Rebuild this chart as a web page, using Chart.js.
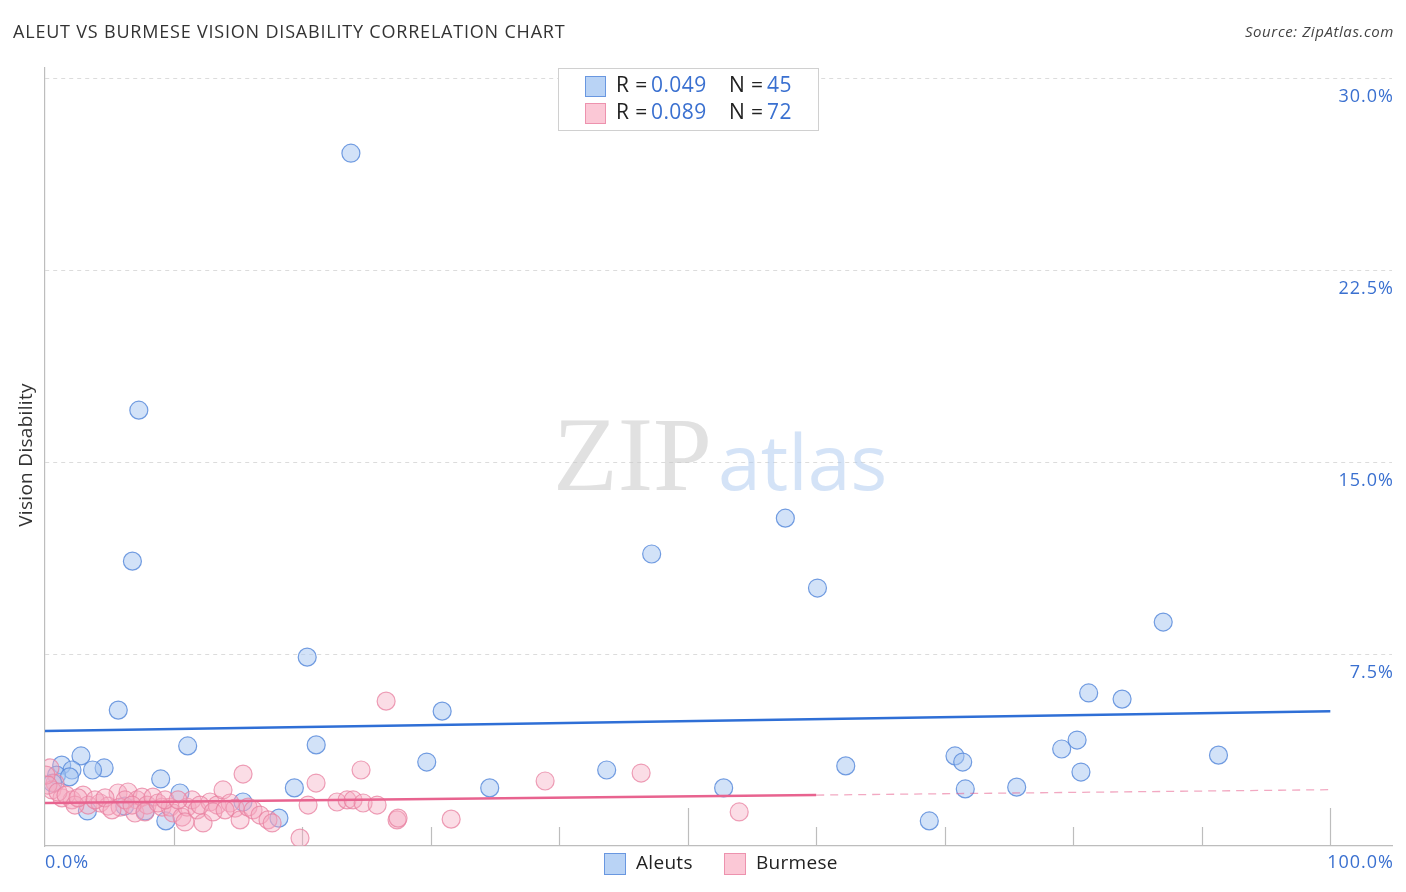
<!DOCTYPE html>
<html lang="en">
<head>
  <meta charset="utf-8">
  <title>Aleut vs Burmese Vision Disability Correlation Chart</title>
  <script src="https://cdn.jsdelivr.net/npm/chart.js"></script>
  <style>
    html, body { margin: 0; padding: 0; background: #fff; }
    #wrap { width: 1406px; height: 892px; position: relative; }
  </style>
</head>
<body>
<div id="wrap"><canvas id="myChart" width="1406" height="892"></canvas></div>
<script>
  // Aleuts: x = share (%), y = vision disability (%)
  var aleutX = [23.8, 7.3, 6.8, 57.6, 47.2, 60.1, 87.0, 20.4, 5.7, 30.9, 81.2, 83.8, 11.1, 21.1, 80.3,
                79.1, 91.3, 70.8, 71.4, 62.3, 29.7, 43.7, 80.6, 2.8, 1.3, 4.6, 3.7, 2.1, 0.9, 1.9,
                3.3, 6.2, 7.8, 9.0, 9.4, 10.5, 15.4, 18.2, 19.4, 34.6, 52.8, 71.6, 75.6, 68.8, 0.6];
  var aleutY = [27.07, 17.03, 11.13, 12.81, 11.41, 10.08, 8.75, 7.38, 5.31, 5.27, 5.98, 5.74, 3.91, 3.95, 4.14,
                3.79, 3.55, 3.52, 3.28, 3.13, 3.28, 2.97, 2.89, 3.52, 3.16, 3.05, 2.97, 2.97, 2.77, 2.70,
                1.37, 1.56, 1.37, 2.62, 0.98, 2.07, 1.72, 1.09, 2.27, 2.27, 2.27, 2.23, 2.30, 0.98, 2.46];

  // Burmese
  var burmeseX = [0.39, 0.78, 0.54, 1.32, 2.10, 2.96, 3.35, 4.28, 4.90, 5.68, 6.46, 5.84, 7.16, 7.55, 7.00,
                  7.94, 8.40, 9.11, 9.73, 9.96, 10.66, 11.05, 11.44, 11.83, 12.30, 12.84, 13.39, 13.85, 14.40, 14.79,
                  15.18, 15.41, 15.80, 16.19, 16.73, 17.35, 17.67, 19.84, 20.47, 21.09, 22.72, 23.50, 23.97, 24.75, 25.84,
                  26.54, 24.59, 27.39, 27.47, 31.60, 38.91, 46.38, 54.01, 0.08, 0.23, 1.01, 1.63, 2.33, 2.57, 3.89,
                  4.67, 5.21, 6.23, 6.77, 7.78, 8.79, 9.34, 10.35, 12.06, 13.07, 14.01, 10.89];
  var burmeseY = [3.05, 2.46, 2.19, 1.88, 1.80, 1.99, 1.60, 1.68, 1.56, 2.07, 2.11, 1.52, 1.80, 1.91, 1.29,
                  1.60, 1.91, 1.52, 1.52, 1.29, 1.13, 1.52, 1.80, 1.41, 0.90, 1.72, 1.60, 2.19, 1.68, 1.48,
                  1.02, 2.81, 1.52, 1.41, 1.21, 1.02, 0.90, 0.31, 1.60, 2.46, 1.72, 1.80, 1.80, 1.68, 1.60,
                  5.66, 2.97, 1.02, 1.09, 1.05, 2.54, 2.85, 1.33, 2.77, 2.38, 2.11, 1.99, 1.60, 1.88, 1.80,
                  1.88, 1.41, 1.80, 1.60, 1.33, 1.68, 1.80, 1.80, 1.60, 1.33, 1.41, 0.94];

  // trend lines (x, y) pairs
  var aleutTrendX = [0, 100];
  var aleutTrendY = [4.49, 5.27];
  var burmeseTrendX = [0, 60];
  var burmeseTrendY = [1.68, 1.99];
  var burmeseDashX = [60, 100];
  var burmeseDashY = [1.99, 2.2];

  var yTicks = [7.5, 15, 22.5, 30];
  var yTickLabels = ['7.5%', '15.0%', '22.5%', '30.0%'];
  var xTickLabels = ['0.0%', '100.0%'];
  var xMinorTicks = [10, 20, 30, 40, 50, 60, 70, 80, 90, 100];

  var legendStats = [
    { r: '0.049', n: '45' },
    { r: '0.089', n: '72' }
  ];
  var seriesNames = ['Aleuts', 'Burmese'];

  var BLUE_FILL = 'rgba(165, 198, 242, 0.5)';
  var BLUE_EDGE = 'rgba(90, 140, 220, 0.85)';
  var PINK_FILL = 'rgba(246, 170, 192, 0.4)';
  var PINK_EDGE = 'rgba(232, 128, 160, 0.75)';
  var TEXT_BLUE = '#3a70d0';

  function pairs(xs, ys) {
    return xs.map(function (x, i) { return { x: x, y: ys[i] }; });
  }

  var FONT = '"Open Sans", "DejaVu Sans", sans-serif';

  function spaced(ctx, px) {
    if ('letterSpacing' in ctx) ctx.letterSpacing = px + 'px';
  }

  var decorPlugin = {
    id: 'decor',
    beforeDatasetsDraw: function (chart) {
      var ctx = chart.ctx;
      var a = chart.chartArea;
      ctx.save();
      // watermark
      ctx.textBaseline = 'alphabetic';
      ctx.fillStyle = 'rgba(200, 200, 200, 0.55)';
      ctx.font = '106px "Liberation Serif", "DejaVu Serif", serif';
      ctx.textAlign = 'left';
      ctx.fillText('ZIP', 553, 490);
      ctx.fillStyle = 'rgba(170, 200, 240, 0.5)';
      ctx.font = '77px ' + FONT;
      ctx.fillText('atlas', 718, 490);

      // x axis small ticks
      var xs = chart.scales.x;
      ctx.strokeStyle = '#bdbdbd';
      ctx.lineWidth = 1.2;
      xMinorTicks.forEach(function (v) {
        var px = Math.round(xs.getPixelForValue(v)) + 0.5;
        var len = (v === 50 || v === 100) ? 38 : 19;
        ctx.beginPath();
        ctx.moveTo(px, a.bottom);
        ctx.lineTo(px, a.bottom - len);
        ctx.stroke();
      });
      ctx.restore();
    },
    afterDraw: function (chart) {
      var ctx = chart.ctx;
      var ys = chart.scales.y;
      var xs = chart.scales.x;
      ctx.save();
      ctx.textBaseline = 'middle';

      // title
      ctx.fillStyle = '#333';
      ctx.font = '18px ' + FONT;
      spaced(ctx, 0.8);
      ctx.textAlign = 'left';
      ctx.fillText('ALEUT VS BURMESE VISION DISABILITY CORRELATION CHART', 13, 33);

      // source
      ctx.font = 'italic 15px ' + FONT;
      spaced(ctx, 0.6);
      ctx.textAlign = 'right';
      ctx.fillStyle = '#444';
      ctx.fillText('Source: ZipAtlas.com', 1394, 33);

      // y axis title
      ctx.save();
      ctx.translate(27, 455);
      ctx.rotate(-Math.PI / 2);
      ctx.textAlign = 'center';
      ctx.fillStyle = '#333';
      ctx.font = '19px ' + FONT;
      spaced(ctx, 0.3);
      ctx.fillText('Vision Disability', 0, 0);
      ctx.restore();

      // y tick labels
      ctx.fillStyle = TEXT_BLUE;
      ctx.font = '18px ' + FONT;
      spaced(ctx, 1);
      ctx.textAlign = 'right';
      yTicks.forEach(function (v, i) {
        ctx.fillText(yTickLabels[i], 1394, ys.getPixelForValue(v) + 19);
      });

      // x tick labels
      ctx.textAlign = 'left';
      ctx.fillText(xTickLabels[0], xs.getPixelForValue(0), 863);
      ctx.textAlign = 'right';
      ctx.fillText(xTickLabels[1], 1394, 863);

      // top legend box
      ctx.fillStyle = '#fff';
      ctx.fillRect(558, 68, 260, 62);
      ctx.strokeStyle = '#d0d0d0';
      ctx.lineWidth = 1;
      ctx.strokeRect(558.5, 68.5, 260, 62);
      var edges = [BLUE_EDGE, PINK_EDGE];
      var solidFills = ['#b9d3f5', '#fbc8d6'];
      legendStats.forEach(function (s, i) {
        var cy = 86 + i * 27;
        ctx.fillStyle = solidFills[i];
        ctx.fillRect(585, cy - 10, 21, 21);
        ctx.strokeStyle = edges[i];
        ctx.strokeRect(585.5, cy - 9.5, 20, 20);
        ctx.font = '21px ' + FONT;
        spaced(ctx, 0.4);
        ctx.textAlign = 'left';
        ctx.fillStyle = '#222';
        ctx.fillText('R =', 616, cy);
        ctx.fillStyle = TEXT_BLUE;
        ctx.fillText(s.r, 651, cy);
        ctx.fillStyle = '#222';
        ctx.fillText('N =', 729, cy);
        ctx.fillStyle = TEXT_BLUE;
        ctx.fillText(s.n, 767, cy);
      });

      // bottom legend
      var lx = [604, 724];
      var tx = [636, 756];
      seriesNames.forEach(function (name, i) {
        ctx.fillStyle = solidFills[i];
        ctx.fillRect(lx[i], 853, 22, 22);
        ctx.strokeStyle = edges[i];
        ctx.strokeRect(lx[i] + 0.5, 853.5, 21, 21);
        ctx.fillStyle = '#222';
        ctx.font = '19px ' + FONT;
        spaced(ctx, 0.3);
        ctx.textAlign = 'left';
        ctx.fillText(name, tx[i], 864);
      });
      ctx.restore();
    }
  };

  var ctx = document.getElementById('myChart').getContext('2d');
  var myChart = new Chart(ctx, {
    type: 'scatter',
    data: {
      datasets: [
        {
          label: 'Aleuts trend',
          type: 'line',
          data: pairs(aleutTrendX, aleutTrendY),
          borderColor: '#2f6fd6',
          borderWidth: 2.5,
          pointRadius: 0,
          fill: false,
          order: 0
        },
        {
          label: 'Burmese trend',
          type: 'line',
          data: pairs(burmeseTrendX, burmeseTrendY),
          borderColor: '#e8638f',
          borderWidth: 2.5,
          pointRadius: 0,
          fill: false,
          order: 0
        },
        {
          label: 'Burmese trend (ext)',
          type: 'line',
          data: pairs(burmeseDashX, burmeseDashY),
          borderColor: 'rgba(232, 99, 143, 0.55)',
          borderWidth: 1.3,
          borderDash: [8, 6],
          pointRadius: 0,
          fill: false,
          order: 0
        },
        {
          label: 'Aleuts',
          data: pairs(aleutX, aleutY),
          backgroundColor: BLUE_FILL,
          borderColor: BLUE_EDGE,
          borderWidth: 1.2,
          pointRadius: 9,
          order: 2
        },
        {
          label: 'Burmese',
          data: pairs(burmeseX, burmeseY),
          backgroundColor: PINK_FILL,
          borderColor: PINK_EDGE,
          borderWidth: 1.2,
          pointRadius: 9,
          order: 1
        }
      ]
    },
    options: {
      responsive: false,
      animation: false,
      layout: { padding: { left: 45, right: 14, top: 68, bottom: 46 } },
      plugins: {
        legend: { display: false },
        title: { display: false },
        tooltip: { enabled: false }
      },
      scales: {
        x: {
          type: 'linear',
          min: 0,
          max: 104.8,
          ticks: { display: false },
          grid: { display: false, drawTicks: false },
          border: { display: true, color: '#bdbdbd', width: 1.2 }
        },
        y: {
          type: 'linear',
          min: 0,
          max: 30.4,
          afterBuildTicks: function (axis) {
            axis.ticks = yTicks.map(function (v) { return { value: v }; });
          },
          ticks: { display: false },
          grid: {
            color: '#dcdcdc',
            lineWidth: 1,
            drawTicks: false
          },
          border: { display: true, color: '#bdbdbd', width: 1.2, dash: [4, 4] }
        }
      }
    },
    plugins: [decorPlugin]
  });
</script>
</body>
</html>
